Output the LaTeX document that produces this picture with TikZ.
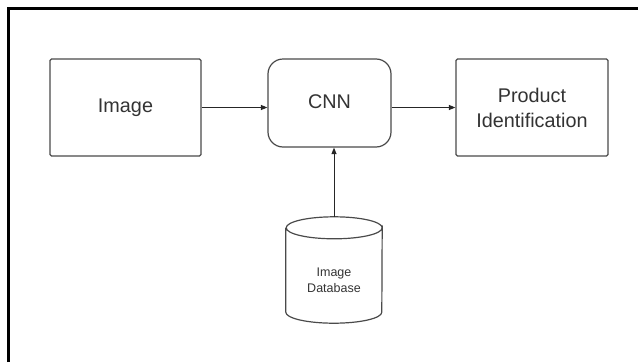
\documentclass[tikz,border=0pt]{standalone}
\usepackage{fontspec}
\setmainfont{Liberation Sans}
\usetikzlibrary{arrows.meta}
\definecolor{edge}{HTML}{4A4A4A}
\definecolor{ink}{HTML}{333333}
\begin{document}
\begin{tikzpicture}[x=1pt,y=-1pt,
  box/.style={draw=edge,line width=1.2pt,rounded corners=1.5pt,text=ink,
    font=\fontsize{19.8}{25}\selectfont,align=center,inner sep=0pt},
  flow/.style={draw=black!85,line width=1pt,-{Triangle[length=6.5pt,width=5pt]}}]
\useasboundingbox (0,0) rectangle (638,362);
% page frame (only left and top edges fall on the page)
\draw[line width=3pt] (8,362) -- (8,8) -- (638,8);

\node[box,minimum width=151pt,minimum height=97pt] (img) at (125.5,107.5) {Image};
\node[box,rounded corners=15pt,minimum width=123pt,minimum height=88pt,
  text depth=3pt] (cnn) at (329.5,103) {CNN};
\node[box,minimum width=152pt,minimum height=97pt] (prod) at (532,107.5) {Product\\Identification};

% database cylinder
\node[minimum width=96pt,minimum height=106pt,inner sep=0pt] (db) at (334,270) {};
\draw[edge,line width=1.2pt]
  ([yshift=-11pt]db.north west) -- ([yshift=11pt]db.south west)
  arc[start angle=180,end angle=360,x radius=48pt,y radius=11pt]
  -- ([yshift=-11pt]db.north east)
  arc[start angle=0,end angle=-180,x radius=48pt,y radius=11pt]
  arc[start angle=180,end angle=0,x radius=48pt,y radius=11pt];
\node[text=ink,font=\fontsize{12.5}{16}\selectfont,align=center] (dbtext) at (334,280) {Image\\Database};

\draw[flow] (img.east) -- (img.east -| cnn.west);
\draw[flow] (cnn.east |- img.east) -- (prod.west);
\draw[flow] (db.north) -- (cnn.south -| db.north);
\end{tikzpicture}
\end{document}
